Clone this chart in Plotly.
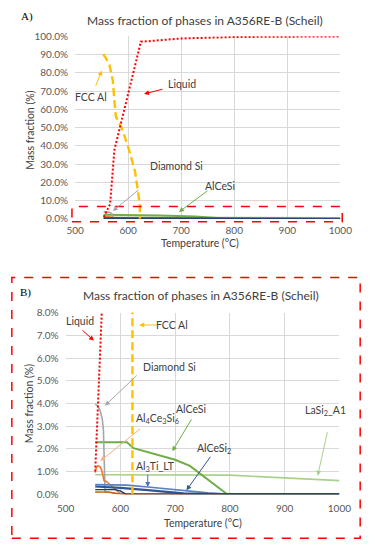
import plotly.graph_objects as go

# ---------------- data (temperature in °C, mass fraction in %) ----------------
liquid_T = [554, 560, 566, 574, 624, 700, 800, 900, 1000]
liquid = [1.0, 4.5, 8.0, 37.6, 97.0, 98.8, 99.6, 99.8, 99.9]

fcc_T = [553, 558, 565, 571, 574, 577, 589, 601, 613, 619, 622, 622]
fcc = [90.2, 88.0, 84.0, 76.0, 65.0, 56.0, 49.0, 38.5, 26.0, 13.5, 8.0, 0.0]

si_T = [554, 558, 563, 567, 569, 570, 571, 572, 590, 620, 1000]
si = [3.97, 3.90, 3.69, 3.30, 2.83, 1.80, 0.83, 0.11, 0.04, 0.0, 0.0]

alcesi_T = [554, 612, 624, 660, 700, 727, 760, 795, 1000]
alcesi = [2.29, 2.29, 2.03, 1.80, 1.52, 1.25, 0.65, 0.0, 0.0]

lasi2_T = [554, 700, 800, 1000]
lasi2 = [0.86, 0.86, 0.84, 0.60]

al4ce3si6_T = [554, 556, 559, 563, 566, 568, 570, 575, 585, 595, 600, 605, 1000]
al4ce3si6 = [0.95, 1.18, 1.25, 1.20, 1.05, 0.85, 0.60, 0.55, 0.35, 0.12, 0.02, 0.0, 0.0]

minor_T = [554, 580, 595, 600, 1000]
minor = [0.10, 0.09, 0.02, 0.0, 0.0]

al3ti_T = [554, 612, 650, 700, 760, 800, 1000]
al3ti = [0.42, 0.40, 0.32, 0.20, 0.06, 0.0, 0.0]

alcesi2_T = [554, 600, 650, 700, 715, 760, 1000]
alcesi2 = [0.34, 0.28, 0.18, 0.07, 0.04, 0.0, 0.0]

navy_T = [554, 590, 600, 606, 610, 1000]
navy = [0.20, 0.20, 0.15, 0.05, 0.0, 0.0]

x_ticks = [500, 600, 700, 800, 900, 1000]

W, H = 375, 550
FONT = "Lato"


def px(x):
    return x / W


def py(y):
    return 1 - y / H


series = [
    (lasi2_T, lasi2, "#A9D18E", 1.6, "solid", "LaSi2_A1"),
    (alcesi_T, alcesi, "#70AD47", 2.0, "solid", "AlCeSi"),
    (si_T, si, "#A5A5A5", 1.6, "solid", "Diamond Si"),
    (al4ce3si6_T, al4ce3si6, "#ED7D31", 1.6, "solid", "Al4Ce3Si6"),
    (minor_T, minor, "#C55A11", 1.4, "solid", "minor"),
    (al3ti_T, al3ti, "#5B7FBF", 1.6, "solid", "Al3Ti_LT"),
    (alcesi2_T, alcesi2, "#2F5597", 2.2, "solid", "AlCeSi2"),
    (navy_T, navy, "#1F3864", 1.4, "solid", "navy"),
    (fcc_T, fcc, "#FFC000", 2.4, "8px,4px", "FCC Al"),
    (liquid_T, liquid, "#FF0000", 2.0, "2px,2px", "Liquid"),
]

fig = go.Figure()
for xa, ya in (("x", "y"), ("x2", "y2")):
    for T, v, c, w, d, n in series:
        fig.add_trace(go.Scatter(x=T, y=v, mode="lines", name=n, xaxis=xa, yaxis=ya,
                                 line=dict(color=c, width=w, dash=d), showlegend=False,
                                 hoverinfo="skip"))

axis_common = dict(showgrid=True, gridcolor="#D9D9D9", gridwidth=1, zeroline=False,
                   showline=False, tickfont=dict(family=FONT, size=10, color="#595959"),
                   ticks="")

fig.update_layout(
    width=W, height=H, margin=dict(l=0, r=0, t=0, b=0),
    paper_bgcolor="white", plot_bgcolor="white", showlegend=False,
    xaxis=dict(domain=[px(70), px(351)], range=[500, 1000], tickvals=x_ticks,
               anchor="y", ticklabelstandoff=4, **axis_common),
    yaxis=dict(domain=[py(217), py(30)], range=[0, 100], dtick=10, tickformat=".1f",
               ticksuffix="%", anchor="x", ticklabelstandoff=6, **axis_common),
    xaxis2=dict(domain=[px(60), px(350)], range=[500, 1000], tickvals=x_ticks,
                anchor="y2", ticklabelstandoff=7, **axis_common),
    yaxis2=dict(domain=[py(499), py(313)], range=[0, 8], dtick=1, tickformat=".1f",
                ticksuffix="%", anchor="x2", ticklabelstandoff=6, **axis_common),
)

ann = []


def text(x, y, t, size=10.5, color="#404040", family=FONT, angle=0):
    ann.append(dict(x=px(x), y=py(y), xref="paper", yref="paper", text=t, showarrow=False,
                    font=dict(family=family, size=size, color=color), textangle=angle,
                    xanchor="center", yanchor="middle"))


def arrow(tx, ty, hx, hy, color):
    ann.append(dict(x=px(hx), y=py(hy), xref="paper", yref="paper", text="",
                    showarrow=True, ax=tx - hx, ay=ty - hy, arrowhead=2, arrowsize=1,
                    arrowwidth=1, arrowcolor=color, standoff=0, startstandoff=0))


# panel A
text(19, 10, "A)", size=11, family="Liberation Serif", color="#000000")
text(207.5, 14, "Mass fraction of phases in A356RE-B (Scheil)", size=12)
text(22, 126, "Mass fraction (%)", size=10.5, angle=-90)
text(202, 242, "Temperature (°C)", size=10.5)
text(87, 92, "FCC Al")
text(183, 79, "Liquid")
text(177, 163, "Diamond Si")
text(223, 183, "AlCeSi")
arrow(91.7, 81.7, 98.3, 65, "#FFC000")
arrow(163, 84, 143, 89, "#FF0000")
arrow(137, 186.7, 110, 209, "#A5A5A5")
arrow(210, 187.7, 180, 210, "#70AD47")

# panel B
text(18, 292, "B)", size=11, family="Liberation Serif", color="#000000")
text(203.5, 295, "Mass fraction of phases in A356RE-B (Scheil)", size=12)
text(22, 406, "Mass fraction (%)", size=10.5, angle=-90)
text(205, 529, "Temperature (°C)", size=10.5)
text(75, 321.7, "Liquid")
text(173, 325.7, "FCC Al")
text(170, 369, "Diamond Si")
text(157, 421.7, "Al<sub>4</sub>Ce<sub>3</sub>Si<sub>6</sub>")
text(193, 411.7, "AlCeSi")
text(217, 452.7, "AlCeSi<sub>2</sub>")
text(155, 471, "Al<sub>3</sub>Ti_LT")
text(335, 413.3, "LaSi<sub>2</sub>_A1")
arrow(77, 330, 90, 341.7, "#FF0000")
arrow(157, 325.7, 138, 325.7, "#FFC000")
arrow(135, 376.7, 101.7, 408.3, "#A5A5A5")
arrow(138, 431.7, 96.7, 465, "#F4B183")
arrow(193, 421.7, 173, 455, "#70AD47")
arrow(213, 460, 188, 495, "#2F5597")
arrow(147, 478, 147, 491.7, "#4472C4")
arrow(337, 435, 327, 480, "#A9D18E")

fig.update_layout(annotations=ann)

shapes = [
    dict(type="rect", xref="paper", yref="paper", x0=px(66.7), x1=px(353), y0=py(220), y1=py(204.3),
         line=dict(color="#FF0000", width=1.5, dash="dash"), layer="above"),
    dict(type="rect", xref="paper", yref="paper", x0=px(3), x1=px(372), y0=py(544), y1=py(277),
         line=dict(color="#FF0000", width=1.5, dash="dash"), layer="above"),
]
fig.update_layout(shapes=shapes)

fig.write_html("out.html", config={"displayModeBar": False},
               post_script="document.body.style.margin='0';document.body.style.overflow='hidden';")
